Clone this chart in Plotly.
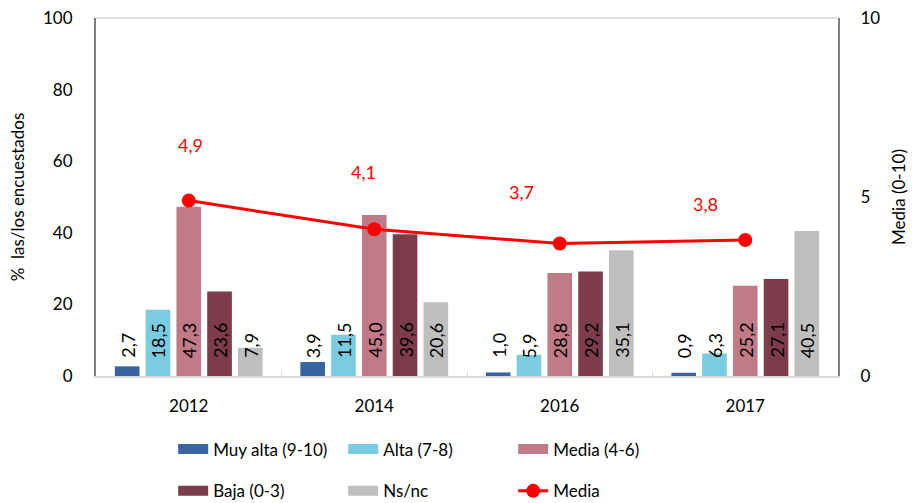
import plotly.graph_objects as go

# ── Data ─────────────────────────────────────────────
years = ["2012", "2014", "2016", "2017"]
muy_alta = [2.7, 3.9, 1.0, 0.9]
alta = [18.5, 11.5, 5.9, 6.3]
media_46 = [47.3, 45.0, 28.8, 25.2]
baja = [23.6, 39.6, 29.2, 27.1]
nsnc = [7.9, 20.6, 35.1, 40.5]
media_score = [4.9, 4.1, 3.7, 3.8]

FONT = "Lato, 'Open Sans', sans-serif"
BARGAP = 0.17

series = [
    ("Muy alta (9-10)", muy_alta, "#3A64A0", "legend"),
    ("Alta (7-8)", alta, "#7BCCE0", "legend"),
    ("Media (4-6)", media_46, "#C07A88", "legend"),
    ("Baja (0-3)", baja, "#7D3C4B", "legend2"),
    ("Ns/nc", nsnc, "#BFBFBF", "legend2"),
]


def fmt(v):
    return f"{v:.1f}".replace(".", ",")


fig = go.Figure()
n = len(series)
slot = (1 - BARGAP) / n
for j, (name, vals, color, leg) in enumerate(series):
    fig.add_trace(go.Bar(
        x=years, y=vals, name=name, showlegend=False,
        marker=dict(color=color, line=dict(width=0)),
    ))
    # legend-only entry so the key is a wide band like the original
    fig.add_trace(go.Scatter(
        x=[None], y=[None], mode="lines", name=name, legend=leg,
        line=dict(color=color, width=10),
    ))
    # vertical value labels sitting near the base of each bar ("inside base")
    off = (j - (n - 1) / 2) * slot
    for i, v in enumerate(vals):
        fig.add_annotation(
            x=i + off, y=0, xref="x", yref="y", text=fmt(v), showarrow=False,
            textangle=-90, yanchor="bottom", yshift=16,
            font=dict(color="black", size=18, family=FONT),
        )

fig.add_trace(go.Scatter(
    x=years, y=media_score, name="Media", yaxis="y2", legend="legend2",
    mode="lines+markers",
    line=dict(color="#FF0000", width=3),
    marker=dict(color="#FF0000", size=14),
))

# manually placed value labels for the mean (as in the original)
label_dx = [2, -11, -38, -40]
label_dy = [56, 57, 52, 36]
for i, (v, dx, dy) in enumerate(zip(media_score, label_dx, label_dy)):
    fig.add_annotation(
        x=i, y=v, xref="x", yref="y2", text=fmt(v), showarrow=False,
        xshift=dx, yshift=dy, font=dict(color="#FF0000", size=18, family=FONT),
    )

legend_common = dict(
    orientation="h", xanchor="left", yanchor="middle",
    entrywidth=125, entrywidthmode="pixels",
    font=dict(size=17, family=FONT, color="black"),
    bgcolor="rgba(0,0,0,0)",
)

fig.update_layout(
    width=915, height=503,
    margin=dict(l=96, r=77, t=18, b=127, autoexpand=False),
    paper_bgcolor="white", plot_bgcolor="white",
    font=dict(family=FONT, size=17, color="black"),
    barmode="group", bargap=BARGAP, bargroupgap=0.2,
    showlegend=True,
    legend=dict(x=0.104, y=-0.205, **legend_common),
    legend2=dict(x=0.104, y=-0.322, **legend_common),
    xaxis=dict(
        type="category", automargin=False,
        showline=True, linecolor="#D9D9D9", linewidth=2, mirror=False,
        ticks="inside", ticklen=5, tickcolor="#D9D9D9", tickson="boundaries",
        ticklabelstandoff=14, tickfont=dict(size=17),
    ),
    yaxis=dict(
        range=[0, 100], dtick=20, showgrid=False, zeroline=False, automargin=False,
        showline=True, linecolor="#7F7F7F", linewidth=2,
        title=dict(text="%  las/los encuestados", font=dict(size=17), standoff=14),
        ticklabelstandoff=18, tickfont=dict(size=17),
    ),
    yaxis2=dict(
        range=[0, 10], tickvals=[0, 5, 10], overlaying="y", side="right",
        showgrid=False, zeroline=False, automargin=False,
        showline=True, linecolor="#7F7F7F", linewidth=2,
        title=dict(text="Media (0-10)", font=dict(size=17), standoff=14),
        ticklabelstandoff=17, tickfont=dict(size=17),
    ),
    shapes=[dict(type="line", xref="paper", yref="paper", x0=0, x1=1, y0=1, y1=1,
                 line=dict(color="#D9D9D9", width=1.5))],
)

fig.write_html("out.html", config={"displayModeBar": False},
               post_script="document.body.style.margin='0';")
